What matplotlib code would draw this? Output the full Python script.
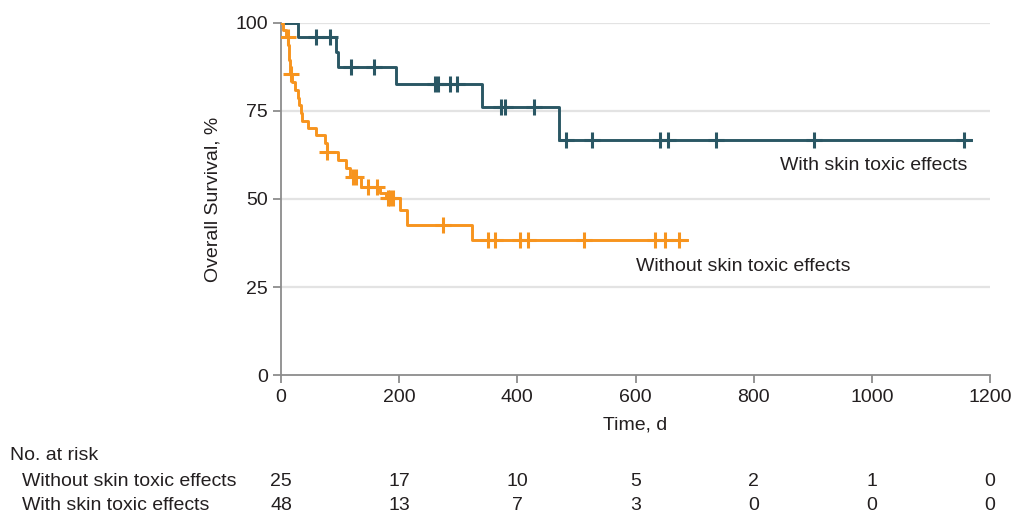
import numpy as np
import matplotlib.pyplot as plt

plt.rcParams['font.family'] = ['Liberation Sans', 'DejaVu Sans']

# with skin toxic effects (teal)
with_t = [0, 29, 93, 97, 194, 340, 470]
with_s = [100, 96.0, 91.7, 87.4, 82.5, 76.2, 66.7]
with_cens = [60, 83, 119, 158, 261, 266, 286, 298, 373, 379, 428,
             483, 527, 642, 655, 737, 902, 1156]
with_end = 1168

# without skin toxic effects (orange)
without_t = [0, 4, 8, 12, 13, 14, 15, 16, 19, 24, 28, 31, 33, 35, 46, 60,
             74, 77, 97, 110, 117, 136, 168, 178, 201, 213, 323]
without_s = [100, 97.9, 95.8, 93.7, 91.6, 89.5, 87.5, 85.4, 83.2, 80.9,
             78.6, 76.6, 74.3, 72.0, 70.0, 68.1, 65.8, 63.4, 61.0, 58.7,
             56.3, 53.5, 51.6, 50.2, 46.9, 42.6, 38.4]
without_cens = [11, 17, 78, 122, 127, 148, 163, 181, 185, 189, 275,
                351, 362, 404, 418, 512, 633, 650, 673]
without_end = 687

risk_times = [0, 200, 400, 600, 800, 1000, 1200]
risk_without = [25, 17, 10, 5, 2, 1, 0]
risk_with = [48, 13, 7, 3, 0, 0, 0]

TEAL = '#2a5764'
ORANGE = '#f7941e'
TXT = '#231f20'
FS = 14


def surv_at(t, times, vals):
    i = np.searchsorted(times, t, side='right') - 1
    return vals[i]


fig = plt.figure(figsize=(10.13, 5.15), dpi=100)
ax = fig.add_axes([0.2774, 0.2709, 0.6999, 0.6854])

for times, vals, cens, end, col in [
        (with_t, with_s, with_cens, with_end, TEAL),
        (without_t, without_s, without_cens, without_end, ORANGE)]:
    xs = list(times) + [end]
    ys = list(vals) + [vals[-1]]
    ax.step(xs, ys, where='post', color=col, lw=2.1, zorder=3)
    cy = [surv_at(c, times, vals) for c in cens]
    ax.plot(cens, cy, ls='none', marker='+', ms=12, mew=2.2, color=col, zorder=4)

ax.set_xlim(0, 1200)
ax.set_ylim(0, 100)
ax.set_xticks(risk_times)
ax.set_yticks([0, 25, 50, 75, 100])
for y in [25, 50, 75, 100]:
    ax.axhline(y, color='#e3e3e3', lw=1.6, zorder=1)

for s in ['top', 'right']:
    ax.spines[s].set_visible(False)
for s in ['left', 'bottom']:
    ax.spines[s].set_color('#8c8c8c')
    ax.spines[s].set_linewidth(1.3)
ax.tick_params(colors='#8c8c8c', width=1.3, length=6, labelsize=FS, labelcolor=TXT)

ax.set_xlabel('Time, d', fontsize=FS, color=TXT, labelpad=8)
ax.set_ylabel('Overall Survival, %', fontsize=FS, color=TXT, labelpad=10)

ax.text(1161, 59.6, 'With skin toxic effects', ha='right', va='center',
        fontsize=FS, color=TXT)
ax.text(964, 31.0, 'Without skin toxic effects', ha='right', va='center',
        fontsize=FS, color=TXT)

# number at risk table
fig.text(10 / 1013, 1 - 456 / 515, 'No. at risk', fontsize=FS, color=TXT, va='center')
rows = [('Without skin toxic effects', risk_without, 481),
        ('With skin toxic effects', risk_with, 505)]
for label, counts, ypx in rows:
    yf = 1 - ypx / 515
    fig.text(22 / 1013, yf, label, fontsize=FS, color=TXT, va='center')
    for t, n in zip(risk_times, counts):
        xf = ax.transData.transform((t, 0))[0] / fig.bbox.width
        fig.text(xf, yf, str(n), fontsize=FS, color=TXT, ha='center', va='center')

fig.savefig('out.png', dpi=100, facecolor='white')
